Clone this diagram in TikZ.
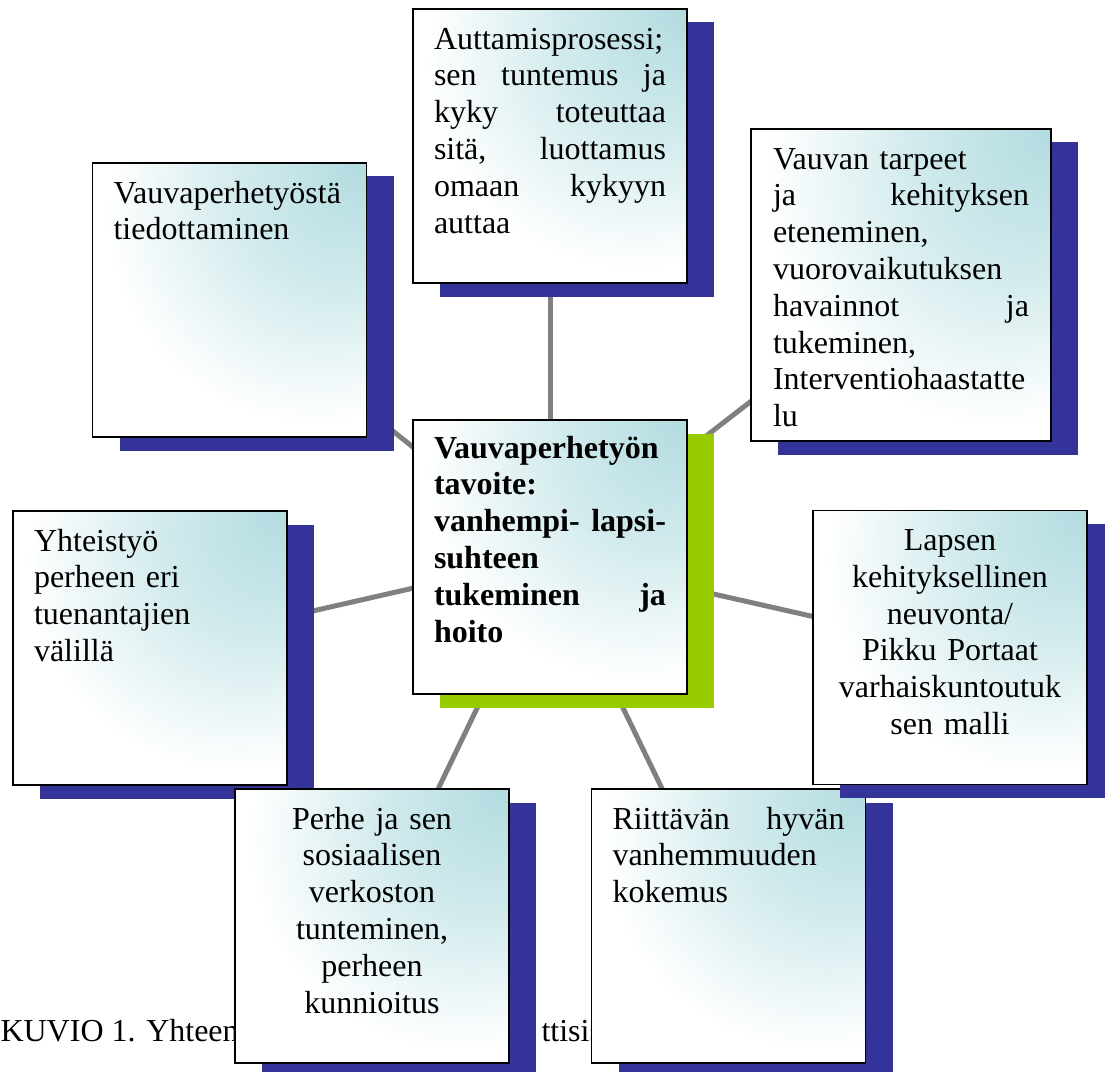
\documentclass[tikz,border=0pt]{standalone}
\usepackage{fontspec}
\setmainfont{Liberation Serif}
\usetikzlibrary{shadows, backgrounds}
\definecolor{cardteal}{HTML}{B2DCE0}
\definecolor{shadowblue}{HTML}{333399}
\definecolor{goalgreen}{HTML}{99CC00}
\definecolor{linkgray}{HTML}{808080}
\pgfdeclareradialshading{cardglow}{\pgfpoint{25bp}{25bp}}{color(0bp)=(cardteal); color(18bp)=(cardteal!60!white); color(38bp)=(white); color(100bp)=(white)}

\begin{document}
\begin{tikzpicture}[x=0.375pt, y=-0.375pt,
    cardbase/.style={rectangle, draw=black, line width=0.7pt, shade, shading=cardglow, inner xsep=7.875pt, inner ysep=0pt, text width=87pt, text height=15pt, text depth=87.75pt, align=left, font=\fontsize{12}{13.8}\selectfont},
    card/.style={cardbase, drop shadow={shadow xshift=10.125pt, shadow yshift=-5.06pt, fill=shadowblue, opacity=1}},
    goal/.style={cardbase, font=\fontsize{12}{13.8}\selectfont\bfseries, drop shadow={shadow xshift=10.125pt, shadow yshift=-5.06pt, fill=goalgreen, opacity=1}},
    caption/.style={anchor=base west, inner sep=0pt, font=\fontsize{12}{13.8}\selectfont},
    link/.style={linkgray, line width=1.875pt},
  ]
  \useasboundingbox (0,0) rectangle (1105,1072);

  % caption, partly hidden by the cards
  \node[caption] (cap) at (0,1041) {KUVIO 1. Yhteenv};
  \node[caption] (captail) at (541,1041) {ttisis};

  \node[card] (tl) at (229.5,300) {Vauvaperhetyöstä\\tiedottaminen};
  \node[card] (top) at (550,146) {Auttamisprosessi;\\sen\hfill tuntemus\hfill ja\\kyky\hfill toteuttaa\\sitä,\hfill luottamus\\omaan\hfill kykyyn\\auttaa};
  \node[card, text width=96pt, inner xsep=8.25pt, text depth=102pt] (tr) at (901,285) {Vauvan tarpeet\\ja\hfill kehityksen\\eteneminen,\\vuorovaikutuksen\\havainnot\hfill ja\\tukeminen,\\Interventiohaastatte\\lu};
  \node[card] (l) at (150,648) {Yhteistyö\\perheen eri\\tuenantajien\\välillä};
  \node[card, align=center] (bl) at (372,926) {Perhe ja sen\\sosiaalisen\\verkoston\\tunteminen,\\perheen\\kunnioitus};
  \node[card] (br) at (728.5,926) {Riittävän\hfill hyvän\\vanhemmuuden\\kokemus};
  \node[card, align=center] (r) at (950,647.5) {Lapsen\\kehityksellinen\\neuvonta/\\Pikku Portaat\\varhaiskuntoutuk\\sen malli};

  \node[goal, text height=14.25pt, text depth=88.5pt] (hub) at (550,557) {Vauvaperhetyön\\tavoite:\\vanhempi-\hfill lapsi-\\suhteen\\tukeminen\hfill ja\\hoito};

  \begin{scope}[on background layer]
    \foreach \card in {tl, top, tr, l, r, bl, br}
      \draw[link] (hub.center) -- (\card.center);
  \end{scope}
\end{tikzpicture}
\end{document}
